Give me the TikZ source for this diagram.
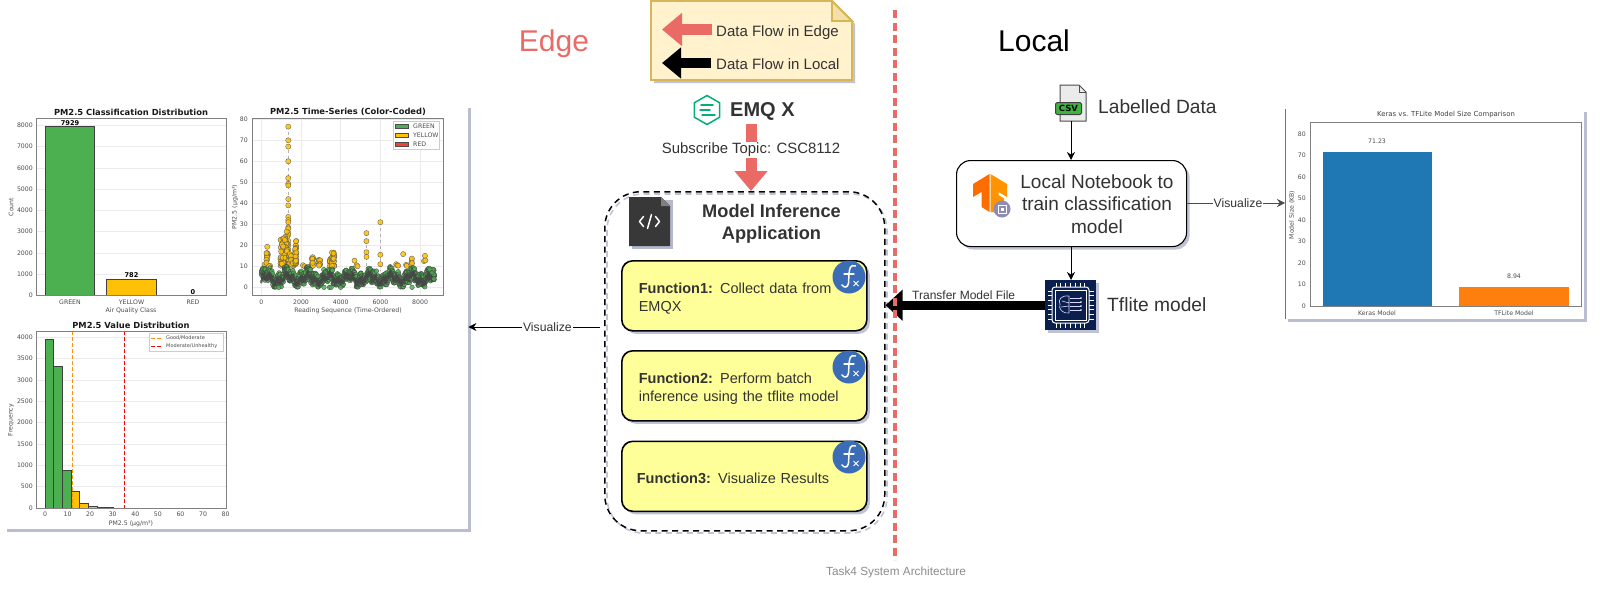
\documentclass[tikz,border=0pt]{standalone}
\usepackage{fontspec}
\setmainfont{Liberation Sans}
\newfontfamily\mplfont{DejaVu Sans}
\usetikzlibrary{arrows.meta,shadows,shapes.geometric,calc}
\definecolor{edgered}{HTML}{EA6B66}
\definecolor{notefill}{HTML}{FFF2CC}
\definecolor{noteline}{HTML}{D6B656}
\definecolor{funcfill}{HTML}{FFFF99}
\definecolor{fxblue}{HTML}{3A6DB5}
\definecolor{ink}{HTML}{333333}
\definecolor{mplgreen}{HTML}{4CAF50}
\definecolor{mplyellow}{HTML}{FFC107}
\definecolor{mplred}{HTML}{F44336}
\definecolor{mplblue}{HTML}{1F77B4}
\definecolor{mplorange}{HTML}{FF7F0E}
\definecolor{navy}{HTML}{0B1F4E}
\definecolor{shadowblue}{HTML}{8088A8}
\definecolor{emqgreen}{HTML}{00B173}
\newcommand\fsz[1]{\fontsize{#1}{#1}\selectfont}
\tikzset{
  softshadow/.style={drop shadow={shadow xshift=3pt,shadow yshift=-3pt,fill=shadowblue,opacity=.5}},
  funcbox/.style={draw=black,line width=1.6pt,fill=funcfill,rounded corners=11pt,minimum width=245pt,minimum height=70pt,anchor=north west,softshadow,align=left,text=ink,font=\fsz{14.5},inner sep=0pt},
  arrowlabel/.style={fill=white,inner sep=1pt,text=ink,font=\fsz{12.2}},
  sidelabel/.style={text=ink,font=\fsz{19.2},inner sep=0pt},
  thinarrow/.style={line width=1pt,-{Stealth[length=8pt,width=8pt]}},
  panel/.style={fill=white,anchor=north west,inner sep=0pt,drop shadow={shadow xshift=3pt,shadow yshift=-3pt,fill=shadowblue,opacity=.55}},
  axisframe/.style={draw=black!50,line width=.8pt},
  gridln/.style={draw=black!8,line width=.5pt},
  tick/.style={font=\mplfont\fsz{6.2},text=black!70,inner sep=0pt},
  ctitle/.style={font=\mplfont\bfseries\fsz{8.35},text=black!90,inner sep=0pt},
  barline/.style={draw=black!75,line width=.9pt},
  ptgreen/.style={draw=black!75,line width=.35pt,fill=mplgreen,fill opacity=.8},
  ptyellow/.style={draw=black!65,line width=.35pt,fill=mplyellow,fill opacity=.85},
  fxdisc/.style={circle,fill=fxblue,minimum size=33pt,inner sep=0pt},
}
\newcommand\fxicon[1]{%
  \draw[white,line width=1.5pt,line cap=round] ($(#1)+(6.5,-11)$) .. controls ($(#1)+(1,-13)$) and ($(#1)+(0.5,-8)$) .. ($(#1)+(0,-3)$) -- ($(#1)+(-0.5,6)$) .. controls ($(#1)+(-1,11)$) and ($(#1)+(-5,11)$) .. ($(#1)+(-7,8)$);
  \draw[white,line width=1.3pt,line cap=round] ($(#1)+(-5,-3)$) -- ($(#1)+(5,-3)$);
  \draw[white,line width=1pt] ($(#1)+(4.5,4)$) -- ($(#1)+(9.5,9)$) ($(#1)+(9.5,4)$) -- ($(#1)+(4.5,9)$);
}
\begin{document}
\begin{tikzpicture}[x=1pt,y=-1pt]
\useasboundingbox (0,0) rectangle (1601,589);
\fill[white] (0,0) rectangle (1601,589);

% ---------- left chart panel
\node[panel,minimum width=464pt,minimum height=424pt] (leftpanel) at (4,105) {};

% chart 1
\foreach \k in {1,...,8}{\draw[gridln] (36,{295.3-21.25*\k}) -- (226,{295.3-21.25*\k});}
\path[barline,fill=mplgreen] (45,295.3) rectangle (94.7,126.8);
\path[barline,fill=mplyellow] (106.7,295.3) rectangle (156.3,279);
\draw[axisframe] (36,118) rectangle (226,295.3);
\foreach \k in {0,...,8}{\pgfmathtruncatemacro\v{\k*1000}\node[tick,anchor=east] (ca\k) at (33,{295.3-21.25*\k}) {\v};}
\node[tick] (cax1) at (70,302.5) {GREEN};
\node[tick] (cax2) at (131.5,302.5) {YELLOW};
\node[tick] (cax3) at (193,302.5) {RED};
\node[tick] (caxl) at (131,311) {Air Quality Class};
\node[tick,rotate=90] (cayl) at (11,207) {Count};
\node[ctitle] (catitle) at (131,112) {PM2.5 Classification Distribution};
\node[font=\mplfont\bfseries\fsz{6.6},inner sep=0pt] (cav1) at (70,123.5) {7929};
\node[font=\mplfont\bfseries\fsz{6.6},inner sep=0pt] (cav2) at (131.5,275.5) {782};
\node[font=\mplfont\bfseries\fsz{6.6},inner sep=0pt] (cav3) at (193,292) {0};

% chart 2
\foreach \k in {0,...,8}{\draw[gridln] (252,{287.3-21*\k}) -- (443,{287.3-21*\k});
  \pgfmathtruncatemacro\v{\k*10}\node[tick,anchor=east] (cb\k) at (248,{287.3-21*\k}) {\v};}
\foreach \k in {0,...,4}{\draw[gridln] ({261.3+39.7*\k},118) -- ({261.3+39.7*\k},295.3);
  \pgfmathtruncatemacro\v{\k*2000}\node[tick] (cbx\k) at ({261.3+39.7*\k},302.5) {\v};}
\newcommand\dx[1]{{261.3+0.01984*#1}}
\newcommand\dy[1]{{287.3-2.1*#1}}
\draw[black!30,line width=.5pt,dashed] (\dx{1360},\dy{77}) -- (\dx{1360},\dy{8});
\draw[black!30,line width=.5pt,dashed] (\dx{5300},\dy{26}) -- (\dx{5300},\dy{8});
\draw[black!30,line width=.5pt,dashed] (\dx{6000},\dy{31}) -- (\dx{6000},\dy{8});
% yellow readings
\foreach \px/\py in {1360/76.5,1360/70,1360/67,1360/60,1360/52,1360/49.3,1360/48.5,1360/42,1360/39,1360/33.5,1360/32,1360/31,1360/28.5,1360/28,1360/26,1360/25,1360/22,1360/20,1360/18,1360/16,1360/14,1360/12,
 300/19.3,1280/26.5,1300/24,1200/24,
 2100/10.5,2180/10,4700/12.7,4800/10.5,4850/10,5300/25.8,5300/22,5300/16.7,5300/14.5,6000/31,6000/15.5,6000/11,
 6800/11,6850/10.5,6900/10.3,7150/15.8,7300/10.7,7330/10.2,7560/11,7570/12,7580/13,7590/13.7,7600/11.5,
 8200/12.5,8250/15,8270/12.8}{
  \path[ptyellow] (\dx{\px},\dy{\py}) circle (2.6);}
\pgfmathsetseed{4112}
\foreach \a/\b/\lo/\hi/\n in {170/330/9/16.3/16,330/480/9/10.8/5,960/1340/10/23.5/75,1380/1490/10/16/14,1500/1690/10/15/12,1700/1770/10/22/28,2530/2610/10/14.5/14,2890/2970/10/13/12,3450/3560/10/15/10,3560/3700/10/17/24}{
  \foreach \i in {1,...,\n}{
    \pgfmathsetmacro\ux{\a+(\b-\a)*rnd}
    \pgfmathsetmacro\uy{\lo+(\hi-\lo)*rnd}
    \path[ptyellow] (\dx{\ux},\dy{\uy}) circle (2.6);
  }}
% green readings
\pgfmathsetseed{8112}
\foreach \i in {0,...,780}{
  \pgfmathsetmacro\gx{11.2*\i}
  \pgfmathsetmacro\gy{max(0.2,min(9.8,4.6+1.8*sin(\gx/2.9)+1.2*sin(\gx/1.05)+2.9*rand))}
  \path[ptgreen] (\dx{\gx},\dy{\gy}) circle (2.3);
}
\foreach \i in {0,...,620}{
  \pgfmathsetmacro\gx{14*\i}
  \pgfmathsetmacro\gy{max(1,min(8.5,3.9+1.5*sin(\gx/2.9)+1*sin(\gx/1.05)+1.5*rand))}
  \fill[black!72,opacity=.75] (\dx{\gx},\dy{\gy}) circle (1.5);
}
\foreach \px/\py in {880/0,3160/0,3440/0,3520/0,4000/0,7600/0,8700/8,8700/6,8700/4,8650/8.5,8600/7,8500/8.6}{
  \path[ptgreen] (\dx{\px},\dy{\py}) circle (2.3);}
\draw[axisframe] (252,118) rectangle (443,295.3);
\draw[draw=black!20,fill=white,line width=.5pt] (393,121) rectangle (439,149);
\foreach \c/\yy in {mplgreen/126,mplyellow/135,mplred/144}{\path[draw=black!70,line width=.6pt,fill=\c] (395,\yy-2.2) rectangle (408,\yy+2.2);}
\node[tick,anchor=west] (cbl1) at (413,126) {GREEN};
\node[tick,anchor=west] (cbl2) at (413,135) {YELLOW};
\node[tick,anchor=west] (cbl3) at (413,144) {RED};
\node[tick] (cbxl) at (348,311) {Reading Sequence (Time-Ordered)};
\node[tick,rotate=90] (cbyl) at (235,207) {PM2.5 (μg/m³)};
\node[ctitle] (cbtitle) at (348,112) {PM2.5 Time-Series (Color-Coded)};

% chart 3
\foreach \k in {1,...,8}{\draw[gridln] (36,{508-21.33*\k}) -- (226,{508-21.33*\k});}
\foreach \k in {0,...,8}{\pgfmathtruncatemacro\v{\k*500}\node[tick,anchor=east] (cc\k) at (33,{508-21.33*\k}) {\v};}
\foreach \k in {0,...,8}{\pgfmathtruncatemacro\v{\k*10}\node[tick] (ccx\k) at ({45+22.58*\k},514) {\v};}
\foreach \a/\b/\t/\c in {45/53.7/339.5/mplgreen,53.7/62.7/366/mplgreen,62.7/71.3/470/mplgreen,71.3/79.7/491.5/mplyellow,79.7/88.7/503/mplyellow,88.7/97/506/mplyellow,97/113/507.3/mplyellow}{
  \path[draw=black!75,line width=.7pt,fill=\c] (\a,508) rectangle (\b,\t);}
\draw[mplorange!70!mplyellow,line width=1pt,dash pattern=on 4pt off 2pt] (72,331) -- (72,508);
\draw[red,line width=1pt,dash pattern=on 4pt off 2pt] (124.3,331) -- (124.3,508);
\draw[axisframe] (36,331) rectangle (226,508);
\draw[draw=black!20,fill=white,line width=.5pt] (149,333) rectangle (223,351);
\draw[mplorange!70!mplyellow,line width=1pt,dash pattern=on 4pt off 2pt] (151,338) -- (162,338);
\draw[red,line width=1pt,dash pattern=on 4pt off 2pt] (151,346) -- (162,346);
\node[tick,anchor=west,font=\mplfont\fsz{5}] (ccl1) at (166,338) {Good/Moderate};
\node[tick,anchor=west,font=\mplfont\fsz{5}] (ccl2) at (166,346) {Moderate/Unhealthy};
\node[ctitle] (cctitle) at (131,325) {PM2.5 Value Distribution};
\node[tick] (ccxl) at (131,524) {PM2.5 (μg/m³)};
\node[tick,rotate=90] (ccyl) at (11,420) {Frequency};

% ---------- titles
\node[text=edgered,font=\fsz{30},inner sep=0pt] (edgetitle) at (554,44) {Edge};
\node[text=black,font=\fsz{30},inner sep=0pt] (localtitle) at (1034,41) {Local};

% ---------- legend note
\fill[shadowblue,opacity=.5] (654,4) -- (835,4) -- (855,24) -- (855,83) -- (654,83) -- cycle;
\draw[draw=noteline,fill=notefill,line width=1.8pt] (651,1) -- (832,1) -- (852,21) -- (852,80) -- (651,80) -- cycle;
\draw[noteline,line width=1.8pt,fill=notefill!70!noteline] (832,1) -- (832,21) -- (852,21) -- cycle;
\coordinate (legAs) at (712,29.5); \coordinate (legAe) at (662,29.5);
\coordinate (legBs) at (711,63); \coordinate (legBe) at (662,63);
\draw[edgered,line width=11pt,-{Triangle[length=20pt,width=32pt]}] (legAs) -- (legAe);
\draw[black,line width=10pt,-{Triangle[length=19pt,width=30pt]}] (legBs) -- (legBe);
\node[anchor=west,text=ink,font=\fsz{15},inner sep=0pt] (legAt) at (716,33) {Data Flow in Edge};
\node[anchor=west,text=ink,font=\fsz{15},inner sep=0pt] (legBt) at (716,64) {Data Flow in Local};

% ---------- EMQ X
\node[regular polygon,regular polygon sides=6,shape border rotate=30,draw=emqgreen,line width=1.5pt,minimum size=29pt,inner sep=0pt] (emqicon) at (707,110) {};
\foreach \ya/\xa/\xb in {105/701/713,110/700/710,115/702/715}{\draw[emqgreen,line width=1.4pt,line cap=round] (\xa,\ya) -- (\xb,\ya);}
\node[anchor=west,text=ink,font=\bfseries\fsz{20},inner sep=0pt] (emqx) at (730,111) {EMQ X};
\coordinate (emqxout) at (751,124);

% ---------- application container
\draw[shadowblue!50,line width=1.6pt,dash pattern=on 6pt off 4.5pt,rounded corners=36pt] (607,194) rectangle (887,533);
\node[draw=black,line width=1.5pt,dash pattern=on 6pt off 4.5pt,rounded corners=36pt,minimum width=280pt,minimum height=339pt,anchor=north west,inner sep=0pt] (app) at (604,191) {};

\draw[edgered,line width=11pt,-{Triangle[length=20pt,width=32pt]}] (emqxout) -- node[pos=.39,fill=white,inner sep=1pt,text=ink,font=\fsz{14.9}] (sublabel) {Subscribe Topic: CSC8112} (app.north -| emqxout);

% code icon
\fill[shadowblue!60] (632,200) rectangle (673,249);
\fill[black!78] (629,197) -- (661,197) -- (670,206) -- (670,246) -- (629,246) -- cycle;
\fill[black!50] (661,197) -- (670,206) -- (661,206) -- cycle;
\coordinate (codec) at (649.5,221.5);
\draw[white,line width=1.5pt,line cap=round,line join=round] ($(codec)+(-6,-5)$) -- ($(codec)+(-10,0)$) -- ($(codec)+(-6,5)$) ($(codec)+(6,-5)$) -- ($(codec)+(10,0)$) -- ($(codec)+(6,5)$) ($(codec)+(2,-7)$) -- ($(codec)+(-2,7)$);
\node[align=center,text=ink,font=\bfseries\fsz{18.2},inner sep=0pt] (apptitle) at (771.5,224) {Model Inference\\[3.5pt]Application};

% function boxes
\node[funcbox,text width=211pt,inner xsep=17pt] (f1) at (621,260) {\rule{0pt}{17pt}\textbf{Function1:} Collect data from\\[3.5pt]EMQX};
\node[funcbox,text width=211pt,inner xsep=17pt] (f2) at (621,350) {\rule{0pt}{17pt}\textbf{Function2:} Perform batch\\[3.5pt]inference using the tflite model};
\node[funcbox,text width=215pt,inner xsep=15pt] (f3) at (621,440.5) {\rule{0pt}{14pt}\textbf{Function3:} Visualize Results};
\node[fxdisc] (fx1) at (849,277) {};
\node[fxdisc] (fx2) at (849,367) {};
\node[fxdisc] (fx3) at (849,457) {};
\fxicon{fx1} \fxicon{fx2} \fxicon{fx3}

% left visualize connector
\draw[thinarrow,draw=black] (app.west |- 0,327) ++(-4,0) coordinate (vizL) -- node[arrowlabel,pos=.4] (vizLlabel) {Visualize} (leftpanel.east |- vizL);

% ---------- local side
\node[draw=black,line width=1.1pt,fill=white,rounded corners=14pt,minimum width=230pt,minimum height=86pt,anchor=north west,softshadow,inner sep=0pt] (nb) at (956,160) {};
\node[align=center,text=ink,font=\fsz{19},inner sep=0pt] (nbtext) at (1097,204) {Local Notebook to\\[3.5pt]train classification\\[3.5pt]\hspace*{0pt}model};

% TF logo
\fill[orange!85!red] (973,184) -- (989.5,174) -- (989.5,212) -- (981.5,207) -- (981.5,192) -- (973,197) -- cycle;
\fill[orange!85!yellow] (990.5,174) -- (1007,184) -- (1007,197) -- (998.5,192) -- (998.5,195) -- (1004,198.5) -- (1004,206) -- (998.5,203) -- (998.5,212) -- (990.5,212) -- cycle;
\node[circle,fill=black!65!blue!45,minimum size=17pt,inner sep=0pt] (tfchip) at (1002,209) {};
\draw[white,line width=.8pt] (998,205) rectangle (1006,213);
\fill[white] (1000.5,207.5) rectangle (1003.5,210.5);

% CSV icon
\draw[black!70,line width=1pt,fill=black!8] (1060,85) -- (1079,85) -- (1086,92) -- (1086,121) -- (1060,121) -- cycle;
\draw[black!70,line width=1pt] (1079,85) -- (1079,92) -- (1086,92);
\node[draw=black!75,line width=1pt,fill=green!60!black!75,rounded corners=1.5pt,minimum width=26pt,minimum height=12pt,inner sep=0pt,font=\mplfont\bfseries\fsz{8.5},text=black] (csv) at (1068.5,108.5) {CSV};
\coordinate (csvout) at (1071,121);
\node[anchor=west,sidelabel] (labelled) at (1098,107) {Labelled Data};

% chip
\node[fill=navy,minimum width=51pt,minimum height=50pt,anchor=north west,softshadow,inner sep=0pt] (chip) at (1045,280) {};
\draw[white,line width=1pt,rounded corners=3pt] (1052,287) rectangle (1089,323);
\draw[white,line width=.7pt] (1055,290) rectangle (1086,320);
\foreach \t in {0,...,6}{
  \draw[white,line width=.8pt] ({1056+\t*4.8},282.5) -- ({1056+\t*4.8},287) ({1056+\t*4.8},323) -- ({1056+\t*4.8},327.5);
  \draw[white,line width=.8pt] (1047.5,{291+\t*4.7}) -- (1052,{291+\t*4.7}) (1089,{291+\t*4.7}) -- (1093.5,{291+\t*4.7});}
\draw[white!85!blue,line width=.6pt] (1069,296) .. controls (1060,295) and (1058,301) .. (1060,304) .. controls (1058,309) and (1063,314) .. (1069,313);
\draw[white!85!blue,line width=.6pt] (1069,296) -- (1069,313) (1062,301) -- (1069,303) (1061,307) -- (1069,306);
\foreach \yy in {298,302,306,310}{\draw[white!85!blue,line width=.6pt] (1070,\yy) -- (1081,\yy); \fill[white] (1081,\yy) circle (.9);}
\node[anchor=west,sidelabel] (tflite) at (1107,304.5) {Tflite model};

\draw[thinarrow] (csvout) -- (nb.north -| csvout);
\draw[thinarrow] (nb.south -| csvout) -- (chip.north -| csvout);

% thick black transfer arrow
\draw[black,line width=9pt,-{Triangle[length=17pt,width=30pt]}] (chip.west) -- node[pos=.51,yshift=9.5pt,fill=white,inner sep=1pt,text=ink,font=\fsz{12}] (xferlabel) {Transfer Model File} (app.east |- chip.west);

% red dashed separator
\coordinate (sepT) at (895,10); \coordinate (sepB) at (895,560);
\draw[edgered,line width=3.2pt,dash pattern=on 8pt off 4.5pt] (sepT) -- (sepB);

\node[text=black!45,font=\fsz{11.8},inner sep=0pt] (caption) at (896,572) {Task4 System Architecture};

% ---------- right chart panel
\node[panel,minimum width=299pt,minimum height=210pt] (rightpanel) at (1285,109) {};
\draw[black!55,line width=1pt] (rightpanel.north west) -- (rightpanel.south west);
\path[fill=mplblue] (1323,306) rectangle (1432,152);
\path[fill=mplorange] (1459,306) rectangle (1569,287);
\draw[axisframe] (1310,122) rectangle (1581,306);
\foreach \k in {0,...,8}{\pgfmathtruncatemacro\v{\k*10}\node[tick,anchor=east] (rt\k) at (1306,{306-21.5*\k}) {\v};}
\node[tick] (rbar1) at (1377,313) {Keras Model};
\node[tick] (rbar2) at (1514,313) {TFLite Model};
\node[tick] (rval1) at (1377,141) {71.23};
\node[tick] (rval2) at (1514,276) {8.94};
\node[tick,rotate=90] (ryl) at (1292,215) {Model Size (KB)};
\node[font=\mplfont\fsz{6.9},text=black!75,inner sep=0pt] (rtitle) at (1446,115) {Keras vs. TFLite Model Size Comparison};

\draw[thinarrow,draw=black!70] (nb.east |- 0,203) coordinate (vizRs) -- node[arrowlabel,pos=.52] (vizRlabel) {Visualize} (rightpanel.west |- vizRs);
\end{tikzpicture}
\end{document}
